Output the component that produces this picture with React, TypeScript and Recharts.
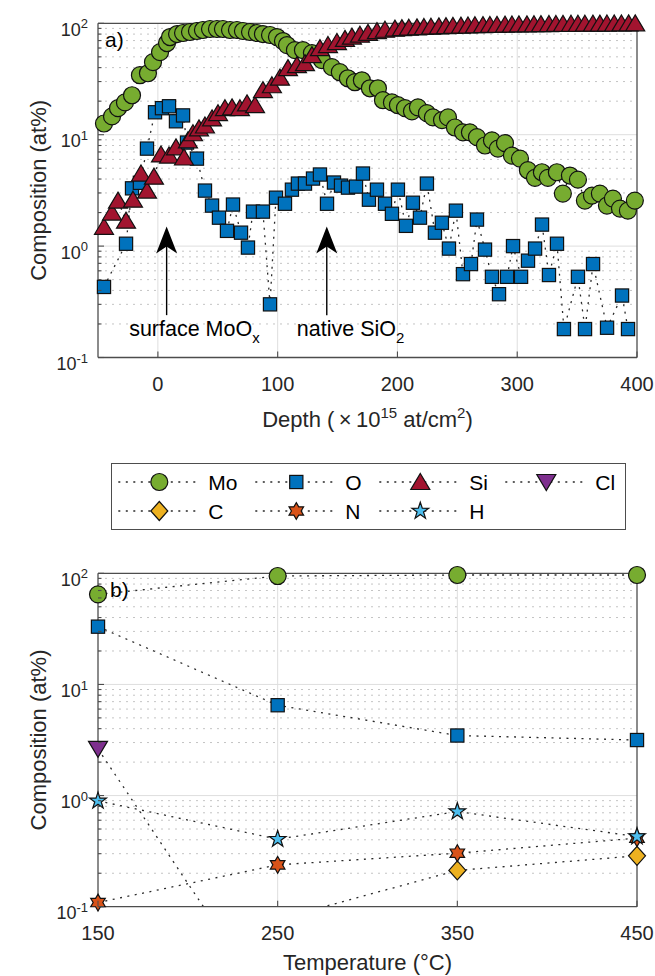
import React from 'react';
import { LineChart, Line, XAxis, YAxis, ReferenceLine, ReferenceDot, Legend } from 'recharts';

// ---------------- Panel a) data: depth profiles ----------------
const moDepth = [-45, -38.3, -33.3, -27.5, -21.6, -15, -8.3, -4.1, 1.8, 7.6, 10.1, 16, 21, 26.8, 32.6, 37.6, 43.5, 49.3, 54.3, 60.2, 66, 71, 76.9, 82.7, 87.7, 93.6, 99.4, 104.4, 107.8, 114.4, 121.1, 128.6, 136.9, 145.3, 151.9, 158.6, 164.5, 170.3, 177, 183.7, 187.9, 195.4, 200.4, 206.3, 212.1, 217.1, 224.6, 229.6, 237.2, 242.2, 248, 254.7, 260.5, 266.4, 273.1, 278.9, 283.9, 289.8, 295.6, 302.3, 308.9, 314.8, 320.6, 325.6, 333.1, 338.1, 344, 350.7, 356.5, 362.4, 369, 374.9, 379.9, 385.8, 392.4, 398.2];
const moComp = [12.6, 14.6, 17.3, 19.5, 22.6, 34.2, 35.6, 44.8, 55.1, 66.5, 75.3, 80.1, 81.8, 83.5, 85.3, 87.1, 88.9, 88.9, 88.9, 87.1, 87.1, 85.3, 83.5, 81.8, 80.1, 78.5, 75.3, 69.3, 63.8, 57.4, 57.4, 54.0, 46.7, 40.4, 36.4, 32.1, 29.6, 30.8, 26.1, 26.1, 20.4, 19.5, 18.4, 17.3, 16.2, 17.6, 15.6, 14.3, 13.5, 14.3, 11.6, 10.5, 10.5, 9.5, 8.0, 8.9, 7.5, 8.4, 6.5, 6.1, 4.8, 4.1, 4.6, 4.1, 4.6, 2.96, 4.3, 3.95, 2.56, 2.84, 2.96, 2.31, 2.67, 2.17, 2.08, 2.56];

const oDepth = [-45, -26.6, -21.6, -15, -9.1, -2.4, 3.4, 9.3, 15.1, 21, 24.3, 32.6, 39.3, 45.2, 51, 57.7, 62.7, 69.4, 75.2, 79.4, 87.7, 93.6, 98.6, 106.1, 111.9, 116.9, 122.8, 129.5, 135.3, 141.2, 147, 152.9, 158.7, 165.4, 171.2, 176.2, 182.9, 189.6, 195.4, 200.4, 207.1, 212.9, 218.8, 224.6, 231.3, 237.1, 243, 248.8, 254.7, 261.4, 266.4, 273.1, 278.9, 284.8, 291.5, 296.5, 303.2, 309, 314.9, 320.7, 326.5, 333.2, 339, 350.7, 356.6, 363.3, 375, 387.5, 392.5];
const oComp = [0.43, 1.05, 3.3, 3.7, 7.5, 15.9, 17.3, 18.0, 13.2, 14.9, 8.5, 6.1, 3.15, 2.31, 1.8, 1.37, 2.36, 1.32, 0.97, 2.04, 2.04, 0.3, 2.72, 2.4, 3.21, 3.64, 3.64, 4.04, 4.39, 2.4, 3.72, 3.49, 3.35, 3.42, 4.48, 2.61, 3.21, 2.4, 1.95, 3.21, 1.52, 2.45, 1.8, 3.64, 1.32, 1.62, 0.95, 2.08, 0.56, 0.69, 1.73, 0.93, 0.53, 0.37, 0.53, 1.0, 0.53, 0.74, 0.95, 1.56, 0.55, 1.05, 0.18, 0.53, 0.18, 0.69, 0.185, 0.36, 0.18];

const siDepth = [-45, -38.3, -33.3, -26.6, -20.8, -14.1, -9.1, -3.3, 2.6, 9.3, 15.1, 21.8, 25.1, 29.3, 34.3, 39.3, 45.2, 50.2, 56, 61.9, 68.5, 74.4, 81.1, 87.7, 95.2, 101.9, 108.6, 116.1, 122.8, 128.6, 135.3, 142, 149.5, 156.2, 162, 168.7, 175.4, 182.9, 189.6, 197.9, 203.7, 209.5, 216.3, 222.1, 228, 234.6, 240.5, 246.3, 253, 258.9, 264.7, 271.4, 277.2, 283.1, 289.8, 295.6, 301.4, 308.1, 314, 319.8, 326.5, 332.3, 338.2, 344.9, 350.7, 356.5, 363.2, 369, 374.9, 381, 387, 393, 398.5];
const siComp = [1.49, 2.0, 2.56, 1.69, 2.61, 4.48, 3.15, 4.2, 6.65, 6.5, 7.7, 6.24, 8.9, 10.3, 11.4, 12.1, 14.0, 15.6, 17.3, 17.6, 17.3, 19.1, 18.4, 25.1, 27.8, 32.5, 39.6, 42.1, 43.9, 51.8, 59.8, 63.8, 67.9, 72.5, 76, 79, 82, 85, 87.5, 89.5, 90.5, 91.3, 92, 92.6, 93.2, 93.8, 94.3, 94.8, 95.2, 95.6, 96, 96.3, 96.6, 96.9, 97.2, 97.5, 97.7, 97.9, 98.1, 98.3, 98.5, 98.7, 98.8, 99, 99.1, 99.2, 99.3, 99.4, 99.5, 99.6, 99.7, 99.8, 99.9];

// ---------------- Panel b) data: vs temperature ----------------
const temperatures = [150, 250, 350, 450];
const moTemp = [64.7, 94.6, 96.5, 96.5];
const oTemp = [33.1, 6.5, 3.47, 3.16];
const clTemp = [2.63, 0.01, 0.01, 0.01];
const cTemp = [0.05, 0.077, 0.212, 0.287];
const nTemp = [0.109, 0.238, 0.303, 0.414];
const hTemp = [0.896, 0.405, 0.718, 0.428];

// ---------------- ticks ----------------
const depthTicks = [0, 100, 200, 300, 400];
const depthGrid = [0, 100, 200, 300];
const tempTicks = [150, 250, 350, 450];
const tempGrid = [250, 350];
const decadeTicks = [0.1, 1, 10, 100];
const decadeGrid = [1, 10];
const minorTicks = [0.2, 0.3, 0.4, 0.5, 0.6, 0.7, 0.8, 0.9, 2, 3, 4, 5, 6, 7, 8, 9, 20, 30, 40, 50, 60, 70, 80, 90];
const logTicks = [...decadeTicks, ...minorTicks];

// ---------------- style ----------------
const FONT = '"Liberation Sans", Arial, Helvetica, sans-serif';
const TXT = '#262626';
const AXIS = '#4d4d4d';
const GRID_MAJOR = '#dedede';
const GRID_MINOR = '#c4c4c4';
const SERIES_LINE = '#2a2a2a';
const DASH = '2 5.5';
const COLORS: Record<string, string> = {
  Mo: '#77AC30', O: '#0072BD', Si: '#A2142F', Cl: '#7E2F8E', C: '#EDB120', N: '#D95319', H: '#4DBEEE',
};

type Kind = 'circle' | 'square' | 'triUp' | 'triDown' | 'diamond' | 'hexagram' | 'pentagram';

function starPoints(cx: number, cy: number, n: number, R: number, r: number) {
  const pts: string[] = [];
  for (let i = 0; i < 2 * n; i++) {
    const a = -Math.PI / 2 + (i * Math.PI) / n;
    const rad = i % 2 === 0 ? R : r;
    pts.push(`${cx + rad * Math.cos(a)},${cy + rad * Math.sin(a)}`);
  }
  return pts.join(' ');
}

function Marker({ kind, cx, cy, fill }: { kind: Kind; cx: number; cy: number; fill: string }) {
  const common = { fill, stroke: '#111', strokeWidth: 1.2 };
  switch (kind) {
    case 'circle':
      return <circle cx={cx} cy={cy} r={8.5} {...common} />;
    case 'square':
      return <rect x={cx - 6.6} y={cy - 6.6} width={13.2} height={13.2} {...common} />;
    case 'triUp':
      return <polygon points={`${cx},${cy - 8.5} ${cx + 9.5},${cy + 7.5} ${cx - 9.5},${cy + 7.5}`} {...common} />;
    case 'triDown':
      return <polygon points={`${cx - 9.5},${cy - 7.5} ${cx + 9.5},${cy - 7.5} ${cx},${cy + 8.5}`} {...common} />;
    case 'diamond':
      return <polygon points={`${cx},${cy - 9.5} ${cx + 8.5},${cy} ${cx},${cy + 9.5} ${cx - 8.5},${cy}`} {...common} />;
    case 'hexagram':
      return <polygon points={starPoints(cx, cy, 6, 8.4, 4.85)} {...common} />;
    case 'pentagram':
      return <polygon points={starPoints(cx, cy, 5, 8.8, 3.4)} {...common} />;
    default:
      return null;
  }
}

const dotOf = (kind: Kind, fill: string) => (p: any) => {
  if (p.cx == null || p.cy == null || isNaN(p.cx) || isNaN(p.cy)) return <g key={`${kind}-${p.index}`} />;
  return <Marker key={`${kind}-${p.index}`} kind={kind} cx={p.cx} cy={p.cy} fill={fill} />;
};

// ---------------- ticks renderers ----------------
const isDecade = (v: number) => decadeTicks.includes(v);
const EXP: Record<string, string> = { '0.1': '-1', '1': '0', '10': '1', '100': '2' };

const LeftLogTick = (props: any) => {
  const { x, y, payload } = props;
  const v = payload.value;
  const major = isDecade(v);
  return (
    <g>
      <line x1={x} y1={y} x2={x + (major ? 6 : 3.5)} y2={y} stroke={AXIS} strokeWidth={1.1} />
      {major && (
        <text x={x - 10} y={y + 12.6} textAnchor="end" fontSize={18} fill={TXT} fontFamily={FONT}>
          10<tspan dy={-7.5} fontSize={13}>{EXP[String(v)]}</tspan>
        </text>
      )}
    </g>
  );
};

const RightLogTick = (props: any) => {
  const { x, y, payload } = props;
  const major = isDecade(payload.value);
  return <line x1={x - (major ? 6 : 3.5)} y1={y} x2={x} y2={y} stroke={AXIS} strokeWidth={1.1} />;
};

const BottomTick = (props: any) => {
  const { x, y, payload } = props;
  return (
    <g>
      <line x1={x} y1={y} x2={x} y2={y - 6} stroke={AXIS} strokeWidth={1.1} />
      <text x={x} y={y + 33} textAnchor="middle" fontSize={20} fill={TXT} fontFamily={FONT}>
        {payload.value}
      </text>
    </g>
  );
};

const TopTick = (props: any) => {
  const { x, y } = props;
  return <line x1={x} y1={y} x2={x} y2={y + 6} stroke={AXIS} strokeWidth={1.1} />;
};

// ---------------- titles ----------------
const YTitle = (props: any) => {
  const vb = props.viewBox || { x: 0, y: 0, width: 98, height: 0 };
  const cx = vb.x + 46;
  const cy = vb.y + vb.height / 2;
  return (
    <text x={cx} y={cy} transform={`rotate(-90 ${cx} ${cy})`} textAnchor="middle" fontSize={22} fill={TXT} fontFamily={FONT}>
      Composition (at%)
    </text>
  );
};

const DepthTitle = (props: any) => {
  const vb = props.viewBox || { x: 0, y: 0, width: 0, height: 0 };
  const cx = vb.x + vb.width / 2;
  return (
    <text x={cx} y={vb.y + 69} textAnchor="middle" fontSize={22} fill={TXT} fontFamily={FONT}>
      {'Depth (\u2009\u00d7\u200910'}
      <tspan dy={-9} fontSize={15}>15</tspan>
      <tspan dy={9}>{' at/cm'}</tspan>
      <tspan dy={-9} fontSize={15}>2</tspan>
      <tspan dy={9}>)</tspan>
    </text>
  );
};

const TempTitle = (props: any) => {
  const vb = props.viewBox || { x: 0, y: 0, width: 0, height: 0 };
  const cx = vb.x + vb.width / 2;
  return (
    <text x={cx} y={vb.y + 63.5} textAnchor="middle" fontSize={22} fill={TXT} fontFamily={FONT}>
      Temperature (°C)
    </text>
  );
};

// ---------------- annotations ----------------
const ArrowShape = (p: any) => {
  const { x1, y1, x2, y2 } = p;
  if ([x1, y1, x2, y2].some((v) => v == null || isNaN(v))) return <g />;
  return (
    <g>
      <line x1={x1} y1={y1} x2={x2} y2={y2 + 18} stroke="#000" strokeWidth={1.4} />
      <polygon points={`${x2},${y2} ${x2 + 10.5},${y2 + 27} ${x2},${y2 + 20} ${x2 - 10.5},${y2 + 27}`} fill="#000" />
    </g>
  );
};

const annotSurface = { x: -24, y: 0.155, arrowX: 7.3 };
const annotNative = { x: 116, y: 0.155, arrowX: 141 };
const arrowBottom = 0.24;
const arrowTip = 1.5;

const SubText = (main: string, sub: string) => (p: any) => (
  <text x={p.cx} y={p.cy} fontSize={21.5} fill="#000" fontFamily={FONT}>
    {main}
    <tspan dy={6.5} fontSize={15}>{sub}</tspan>
  </text>
);

const PanelTag = (tag: string, dx: number) => (p: any) => (
  <text x={p.cx + dx} y={p.cy + 24} fontSize={21} fill="#000" fontFamily={FONT}>
    {tag}
  </text>
);

// ---------------- legend ----------------
const legendEntries: { name: string; kind: Kind }[] = [
  { name: 'Mo', kind: 'circle' },
  { name: 'O', kind: 'square' },
  { name: 'Si', kind: 'triUp' },
  { name: 'Cl', kind: 'triDown' },
  { name: 'C', kind: 'diamond' },
  { name: 'N', kind: 'hexagram' },
  { name: 'H', kind: 'pentagram' },
];
const LEG_W = 515;
const LEG_H = 67;
const LEG_COLS = [7.3, 144.3, 268.3, 394.3];
const LEG_ROWS = [19, 48];

function LegendBox() {
  return (
    <svg width={LEG_W} height={LEG_H} style={{ display: 'block', overflow: 'visible' }}>
      <rect x={0.5} y={0.5} width={LEG_W - 1} height={LEG_H - 1} fill="#fff" stroke={AXIS} strokeWidth={1} />
      {legendEntries.map((e, i) => {
        const x0 = LEG_COLS[i % 4];
        const y0 = LEG_ROWS[Math.floor(i / 4)];
        return (
          <g key={e.name}>
            <line x1={x0} y1={y0} x2={x0 + 82} y2={y0} stroke={SERIES_LINE} strokeWidth={1.3} strokeDasharray={DASH} />
            <Marker kind={e.kind} cx={x0 + 41} cy={y0} fill={COLORS[e.name]} />
            <text x={x0 + 90} y={y0 + 7.6} fontSize={21} fill="#000" fontFamily={FONT}>
              {e.name}
            </text>
          </g>
        );
      })}
    </svg>
  );
}

// ---------------- helpers ----------------
const pair = (xs: number[], vs: number[]) => xs.map((x, i) => ({ x, v: vs[i] }));
const moData = pair(moDepth, moComp);
const oData = pair(oDepth, oComp);
const siData = pair(siDepth, siComp);
const tData = (vs: number[]) => pair(temperatures, vs);
const inRange = (d: { x: number; v: number }[]) => d.filter((p) => p.v >= 0.1 && p.v <= 100);

const axisLine = { stroke: AXIS, strokeWidth: 1.3 };

const horizontalGrid = (prefix: string) => [
  ...minorTicks.map((v) => (
    <ReferenceLine key={`${prefix}-mn-${v}`} y={v} stroke={GRID_MINOR} strokeWidth={1} strokeDasharray="2 5" />
  )),
  ...decadeGrid.map((v) => <ReferenceLine key={`${prefix}-mj-${v}`} y={v} stroke={GRID_MAJOR} strokeWidth={1} />),
];

export default function App() {
  const lineCommon = {
    type: 'linear' as const,
    dataKey: 'v',
    stroke: SERIES_LINE,
    strokeWidth: 1.3,
    strokeDasharray: DASH,
    activeDot: false,
    isAnimationActive: false,
    legendType: 'none' as const,
  };

  return (
    <div style={{ position: 'absolute', left: 0, top: 0, width: 655, height: 976, background: '#fff', fontFamily: FONT }}>
      {/* Panel a */}
      <div style={{ position: 'absolute', left: 0, top: 0 }}>
        <LineChart width={655} height={440} margin={{ top: 0, right: 0, bottom: 0, left: 0 }}>
          <XAxis
            type="number"
            dataKey="x"
            domain={[-50, 400]}
            ticks={depthTicks}
            interval={0}
            height={82.5}
            tickSize={0}
            tickMargin={0}
            tickLine={false}
            tick={<BottomTick />}
            axisLine={axisLine}
            label={<DepthTitle />}
          />
          <XAxis xAxisId="top" orientation="top" type="number" dataKey="x" domain={[-50, 400]} ticks={depthTicks} interval={0} height={23.3} tickSize={0} tickMargin={0} tickLine={false} tick={<TopTick />} axisLine={axisLine} />
          <YAxis
            type="number"
            scale="log"
            domain={[0.1, 100]}
            ticks={logTicks}
            interval={0}
            width={98}
            tickSize={0}
            tickMargin={0}
            tickLine={false}
            tick={<LeftLogTick />}
            axisLine={axisLine}
            label={<YTitle />}
          />
          <YAxis yAxisId="right" orientation="right" type="number" scale="log" domain={[0.1, 100]} ticks={logTicks} interval={0} width={18} tickSize={0} tickMargin={0} tickLine={false} tick={<RightLogTick />} axisLine={axisLine} />

          {horizontalGrid('a')}
          {depthGrid.map((v) => (
            <ReferenceLine key={`a-vx-${v}`} x={v} stroke={GRID_MAJOR} strokeWidth={1} />
          ))}

          <Line {...lineCommon} data={moData} dot={dotOf('circle', COLORS.Mo)} />
          <Line {...lineCommon} data={oData} dot={dotOf('square', COLORS.O)} />
          <Line {...lineCommon} data={siData} dot={dotOf('triUp', COLORS.Si)} />

          <ReferenceLine segment={[{ x: annotSurface.arrowX, y: arrowBottom }, { x: annotSurface.arrowX, y: arrowTip }]} shape={ArrowShape} />
          <ReferenceLine segment={[{ x: annotNative.arrowX, y: arrowBottom }, { x: annotNative.arrowX, y: arrowTip }]} shape={ArrowShape} />
          <ReferenceDot x={annotSurface.x} y={annotSurface.y} r={0} ifOverflow="visible" shape={SubText('surface MoO', 'x')} />
          <ReferenceDot x={annotNative.x} y={annotNative.y} r={0} ifOverflow="visible" shape={SubText('native SiO', '2')} />
          <ReferenceDot x={-50} y={100} r={0} ifOverflow="visible" shape={PanelTag('a)', 7)} />
        </LineChart>
      </div>

      {/* Panel b */}
      <div style={{ position: 'absolute', left: 0, top: 440 }}>
        <LineChart width={655} height={536} margin={{ top: 123.3, right: 0, bottom: 0, left: 0 }}>
          <XAxis
            type="number"
            dataKey="x"
            domain={[150, 450]}
            ticks={tempTicks}
            interval={0}
            height={69.3}
            tickSize={0}
            tickMargin={0}
            tickLine={false}
            tick={<BottomTick />}
            axisLine={axisLine}
            label={<TempTitle />}
          />
          <XAxis xAxisId="top" orientation="top" type="number" dataKey="x" domain={[150, 450]} ticks={tempTicks} interval={0} height={10} tickSize={0} tickMargin={0} tickLine={false} tick={<TopTick />} axisLine={axisLine} />
          <YAxis
            type="number"
            scale="log"
            domain={[0.1, 100]}
            allowDataOverflow
            ticks={logTicks}
            interval={0}
            width={98}
            tickSize={0}
            tickMargin={0}
            tickLine={false}
            tick={<LeftLogTick />}
            axisLine={axisLine}
            label={<YTitle />}
          />
          <YAxis yAxisId="right" orientation="right" type="number" scale="log" domain={[0.1, 100]} ticks={logTicks} interval={0} width={18} tickSize={0} tickMargin={0} tickLine={false} tick={<RightLogTick />} axisLine={axisLine} />
          <YAxis yAxisId="mk" hide type="number" scale="log" domain={[0.1, 100]} />

          {horizontalGrid('b')}
          {tempGrid.map((v) => (
            <ReferenceLine key={`b-vx-${v}`} x={v} stroke={GRID_MAJOR} strokeWidth={1} />
          ))}

          <Line {...lineCommon} data={tData(moTemp)} dot={false} />
          <Line {...lineCommon} yAxisId="mk" stroke="none" data={inRange(tData(moTemp))} dot={dotOf('circle', COLORS.Mo)} />
          <Line {...lineCommon} data={tData(oTemp)} dot={false} />
          <Line {...lineCommon} yAxisId="mk" stroke="none" data={inRange(tData(oTemp))} dot={dotOf('square', COLORS.O)} />
          <Line {...lineCommon} data={tData(clTemp)} dot={false} />
          <Line {...lineCommon} yAxisId="mk" stroke="none" data={inRange(tData(clTemp))} dot={dotOf('triDown', COLORS.Cl)} />
          <Line {...lineCommon} data={tData(cTemp)} dot={false} />
          <Line {...lineCommon} yAxisId="mk" stroke="none" data={inRange(tData(cTemp))} dot={dotOf('diamond', COLORS.C)} />
          <Line {...lineCommon} data={tData(nTemp)} dot={false} />
          <Line {...lineCommon} yAxisId="mk" stroke="none" data={inRange(tData(nTemp))} dot={dotOf('hexagram', COLORS.N)} />
          <Line {...lineCommon} data={tData(hTemp)} dot={false} />
          <Line {...lineCommon} yAxisId="mk" stroke="none" data={inRange(tData(hTemp))} dot={dotOf('pentagram', COLORS.H)} />

          <ReferenceDot x={150} y={100} r={0} ifOverflow="visible" shape={PanelTag('b)', 12)} />

          <Legend
            layout="vertical"
            align="center"
            verticalAlign="middle"
            content={() => <LegendBox />}
            wrapperStyle={{ left: 110.7, top: 23, width: LEG_W, height: LEG_H }}
          />
        </LineChart>
      </div>
    </div>
  );
}
